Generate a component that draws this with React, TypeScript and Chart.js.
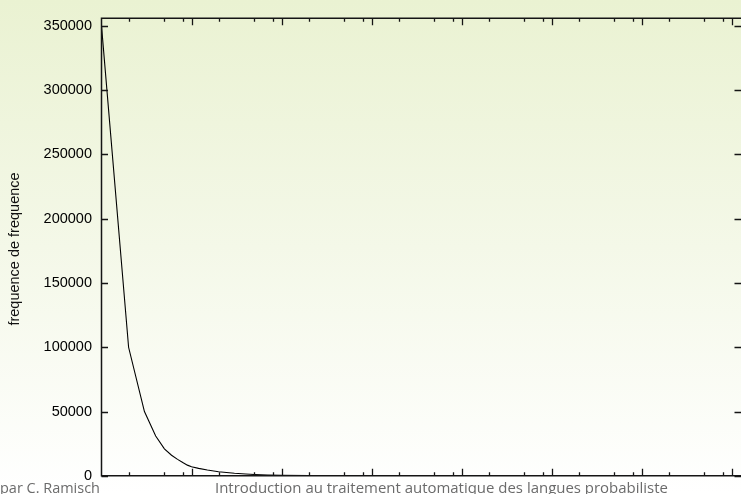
import React, { useEffect, useRef } from "react";
import { Chart, registerables } from "chart.js";

Chart.register(...registerables);

// frequency (x, log scale) and number of types having that frequency (y)
const frequencies = [1, 2, 3, 4, 5, 6, 7, 8, 9, 10, 12, 15, 20, 30, 40, 50, 70, 100, 200, 500, 1000];
const frequencyOfFrequency = [350000, 100000, 50000, 31000, 21000, 16000, 12800, 10300, 8300, 7000, 5800, 4500, 3200, 2000, 1400, 1000, 600, 350, 100, 20, 5];

const yTickValues = [0, 50000, 100000, 150000, 200000, 250000, 300000, 350000];
const xMajorTicks = [1, 10, 100, 1000, 10000, 100000, 1000000, 10000000];
const xMinorMultipliers = [2, 5, 8];

const yAxisTitle = "frequence de frequence";
const footerAuthor = "par C. Ramisch";
const footerTitle = "Introduction au traitement automatique des langues probabiliste";

const W = 741;
const H = 494;

export default function App() {
  const canvasRef = useRef<HTMLCanvasElement | null>(null);

  useEffect(() => {
    const canvas = canvasRef.current;
    if (!canvas) return;

    const framePlugin = {
      id: "gnuplotFrame",
      afterDatasetsDraw(chart: any) {
        const { ctx, chartArea: a, scales } = chart;
        const x = scales.x;
        const y = scales.y;
        ctx.save();
        ctx.strokeStyle = "#151515";
        ctx.lineWidth = 1.5;
        ctx.beginPath();
        ctx.moveTo(a.right, a.top);
        ctx.lineTo(a.left, a.top);
        ctx.lineTo(a.left, a.bottom);
        ctx.lineTo(a.right, a.bottom);
        ctx.stroke();

        ctx.lineWidth = 1.3;
        ctx.beginPath();
        for (const v of yTickValues) {
          const py = Math.round(y.getPixelForValue(v)) + 0.5;
          ctx.moveTo(a.left, py);
          ctx.lineTo(a.left + 6.5, py);
          ctx.moveTo(a.right, py);
          ctx.lineTo(a.right - 6.5, py);
        }
        for (const d of xMajorTicks) {
          const px = Math.round(x.getPixelForValue(d)) + 0.5;
          if (px > a.left + 1 && px <= a.right) {
            ctx.moveTo(px, a.top);
            ctx.lineTo(px, a.top + 7);
            ctx.moveTo(px, a.bottom);
            ctx.lineTo(px, a.bottom - 7);
          }
          for (const m of xMinorMultipliers) {
            const pm = Math.round(x.getPixelForValue(d * m)) + 0.5;
            if (pm > a.left && pm <= a.right) {
              ctx.moveTo(pm, a.top);
              ctx.lineTo(pm, a.top + 3.5);
              ctx.moveTo(pm, a.bottom);
              ctx.lineTo(pm, a.bottom - 3.5);
            }
          }
        }
        ctx.stroke();

        // y axis title
        ctx.fillStyle = "#111";
        ctx.font = "14.5px 'Liberation Sans', Arial, sans-serif";
        ctx.textAlign = "center";
        ctx.textBaseline = "middle";
        ctx.translate(15, (a.top + a.bottom) / 2 + 2);
        ctx.rotate(-Math.PI / 2);
        ctx.fillText(yAxisTitle, 0, 0);
        ctx.restore();
      },
      afterDraw(chart: any) {
        const { ctx } = chart;
        ctx.save();
        ctx.fillStyle = "#6b6b6b";
        ctx.textBaseline = "alphabetic";
        ctx.textAlign = "left";
        const fit = (text: string, width: number) => {
          ctx.font = "13px 'Open Sans', sans-serif";
          const w = ctx.measureText(text).width;
          const size = (13 * width) / w;
          ctx.font = `${size.toFixed(2)}px 'Open Sans', sans-serif`;
        };
        fit(footerAuthor, 100);
        ctx.fillText(footerAuthor, 0, 492.5);
        fit(footerTitle, 453);
        ctx.fillText(footerTitle, 215, 492.5);
        ctx.restore();
      },
    };

    const chart = new Chart(canvas, {
      type: "line",
      data: {
        datasets: [
          {
            data: frequencies.map((f, i) => ({ x: f, y: frequencyOfFrequency[i] })),
            borderColor: "#000",
            borderWidth: 1.1,
            pointRadius: 0,
            fill: false,
            tension: 0,
          },
        ],
      },
      options: {
        responsive: false,
        animation: false,
        devicePixelRatio: 1,
        layout: { padding: { left: 0, top: 9, right: 0, bottom: 11 } },
        plugins: { legend: { display: false }, tooltip: { enabled: false } },
        scales: {
          x: {
            type: "logarithmic",
            min: 1,
            max: Math.pow(10, (741 - 101.5) / 90),
            display: false,
          },
          y: {
            type: "linear",
            min: 0,
            max: 356000,
            afterBuildTicks: (s: any) => {
              s.ticks = yTickValues.map((v) => ({ value: v }));
            },
            afterFit: (s: any) => {
              s.width = 101.5;
            },
            grid: { display: false, drawTicks: false },
            border: { display: false },
            ticks: {
              padding: 9.5,
              color: "#000",
              font: { family: "'Liberation Sans', Arial, sans-serif", size: 14.5 },
              callback: (v: any) => String(v),
            },
          },
        },
      },
      plugins: [framePlugin],
    });

    return () => chart.destroy();
  }, []);

  return (
    <div
      style={{
        position: "absolute",
        left: 0,
        top: 0,
        width: W,
        height: H,
        overflow: "hidden",
        background: "linear-gradient(to bottom, #eaf2d2 0%, #f4f8e8 50%, #ffffff 100%)",
      }}
    >
      <canvas ref={canvasRef} width={W} height={H} style={{ display: "block" }} />
    </div>
  );
}
